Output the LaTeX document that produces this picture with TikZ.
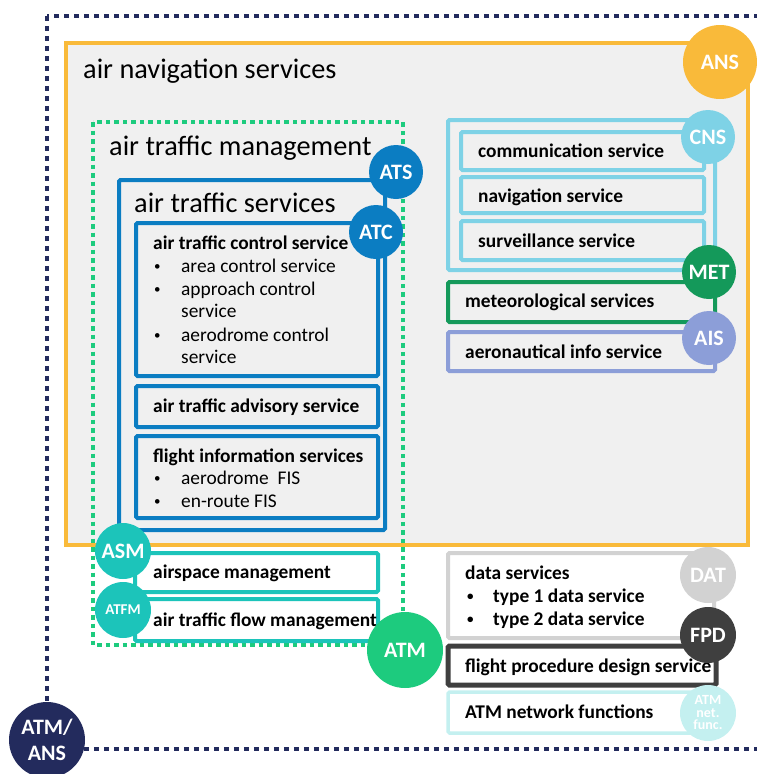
\documentclass[tikz,border=0pt]{standalone}
\usepackage{fontspec}
\setmainfont{Carlito}
\definecolor{navy}{HTML}{232B5D}
\definecolor{ansorange}{HTML}{F9BA3A}
\definecolor{panel}{HTML}{F0F0F0}
\definecolor{atmgreen}{HTML}{1DCB7E}
\definecolor{atsblue}{HTML}{0B7DC2}
\definecolor{asmteal}{HTML}{1CC4BA}
\definecolor{cnsblue}{HTML}{7ED2E6}
\definecolor{metgreen}{HTML}{14995A}
\definecolor{aislav}{HTML}{8C9ED8}
\definecolor{datgray}{HTML}{D2D2D2}
\definecolor{fpddark}{HTML}{3F3F3F}
\definecolor{netcyan}{HTML}{C4F0F0}
\begin{document}
\begin{tikzpicture}[x=1pt,y=-1pt,
  box/.style={line width=4pt, rounded corners=1.5pt},
  badge/.style={circle, inner sep=0pt, minimum size=#1, text=white,
    font=\fontsize{22}{22}\selectfont\bfseries},
  badge/.default=54pt,
  title/.style={anchor=base west, inner sep=0pt, font=\fontsize{28.3}{30}\selectfont},
  lbl/.style={anchor=base west, inner sep=0pt, font=\fontsize{19.4}{22}\selectfont\bfseries},
  item/.style={anchor=base west, inner sep=0pt, font=\fontsize{19.4}{22}\selectfont},
  dot/.style={anchor=base west, inner sep=0pt, font=\fontsize{13}{13}\selectfont},
]
\useasboundingbox (0,0) rectangle (757,774);

% outer ATM/ANS frame
\begin{scope}
\clip (0,0) rectangle (757,774);
\draw[navy, line width=4.5pt, dash pattern=on 5pt off 5pt] (47,16) rectangle (775,749);
\end{scope}

% air navigation services
\draw[ansorange, fill=panel, line width=3.2pt] (66,43) rectangle (748,545);
\node[title] (tans) at (83,78) {air navigation services};

% air traffic management (dotted)
\draw[atmgreen, line width=4pt, dash pattern=on 4.5pt off 4pt] (93,122) rectangle (403,645);
\node[title] (tatm) at (109,155) {air traffic management};

% air traffic services
\draw[box, atsblue, fill=panel] (119,180) rectangle (385,530);
\node[title] (tats) at (134,212) {air traffic services};

% ATC box
\draw[box, atsblue, fill=panel] (136,223) rectangle (378,376);
\node[lbl] (atc0) at (153,249) {air traffic control service};
\node[dot] (atcb1) at (154,270) {•};
\node[item] (atc1) at (181,272) {area control service};
\node[dot] (atcb2) at (154,293) {•};
\node[item] (atc2) at (181,295) {approach control};
\node[item] (atc2b) at (181,317) {service};
\node[dot] (atcb3) at (154,339) {•};
\node[item] (atc3) at (181,341) {aerodrome control};
\node[item] (atc3b) at (181,363) {service};

% advisory box
\draw[box, atsblue, fill=panel] (136,386) rectangle (378,427);
\node[lbl] (adv) at (153,412) {air traffic advisory service};

% FIS box
\draw[box, atsblue, fill=panel] (136,436) rectangle (378,518);
\node[lbl] (fis0) at (153,462) {flight information services};
\node[dot] (fisb1) at (154,482) {•};
\node[item] (fis1) at (181,484) {aerodrome\ \ FIS};
\node[dot] (fisb2) at (154,505) {•};
\node[item] (fis2) at (181,507) {en-route FIS};

% ASM / ATFM
\draw[box, asmteal, fill=white] (135,553) rectangle (378,592);
\node[lbl] (asm) at (153,578) {airspace management};
\draw[box, asmteal, fill=white] (135,599) rectangle (378,641);
\node[lbl] (atfm) at (153,626) {air traffic flow management};

% CNS group
\draw[box, cnsblue, fill=panel] (448,120) rectangle (715,270);
\draw[box, cnsblue, fill=panel] (461,132) rectangle (704,170);
\node[lbl] (com) at (478,157) {communication service};
\draw[box, cnsblue, fill=panel] (461,177) rectangle (704,213);
\node[lbl] (nav) at (478,202) {navigation service};
\draw[box, cnsblue, fill=panel] (461,221) rectangle (704,260);
\node[lbl] (sur) at (478,247) {surveillance service};

% MET / AIS
\draw[box, metgreen, fill=panel] (448,282) rectangle (715,322);
\node[lbl] (met) at (465,307) {meteorological services};
\draw[box, aislav, fill=panel] (448,332) rectangle (715,371);
\node[lbl] (ais) at (465,358) {aeronautical info service};

% data services / FPD / network functions
\draw[box, datgray, fill=white] (448,553) rectangle (714,638);
\node[lbl] (dat0) at (465,579) {data services};
\node[dot, font=\fontsize{13}{13}\selectfont\bfseries] (datb1) at (467,600) {•};
\node[lbl] (dat1) at (493,602) {type 1 data service};
\node[dot, font=\fontsize{13}{13}\selectfont\bfseries] (datb2) at (467,623) {•};
\node[lbl] (dat2) at (493,625) {type 2 data service};
\draw[box, fpddark, fill=white, line width=5pt] (448,646) rectangle (716,685);
\node[lbl] (fpd) at (465,672) {flight procedure design service};
\draw[box, netcyan, fill=white, line width=3.5pt] (448,692) rectangle (714,733);
\node[lbl] (net) at (465,718) {ATM network functions};

% badges
\node[badge=74pt, fill=ansorange] (cans) at (720,62) {ANS};
\node[badge, fill=atsblue] (cats) at (396,172) {ATS};
\node[badge, fill=atsblue] (catc) at (376,232) {ATC};
\node[badge, fill=cnsblue] (ccns) at (708,137) {CNS};
\node[badge, fill=metgreen] (cmet) at (709,272) {MET};
\node[badge, fill=aislav] (cais) at (709,338) {AIS};
\node[badge=56pt, fill=asmteal] (casm) at (123,551) {ASM};
\node[badge=56pt, fill=asmteal, font=\fontsize{15}{15}\selectfont\bfseries] (catfm) at (123,610) {ATFM};
\node[badge=76pt, fill=atmgreen] (catm) at (405,650) {ATM};
\node[badge=56pt, fill=datgray] (cdat) at (708,575) {DAT};
\node[badge=56pt, fill=fpddark] (cfpd) at (708,635) {FPD};
\node[badge=56pt, fill=netcyan, align=center, font=\fontsize{14}{12.5}\selectfont\bfseries] (cnet) at (708,713) {ATM\\net.\\func.};
\node[badge=76pt, fill=navy, align=center, font=\fontsize{22}{26}\selectfont\bfseries] (cboth) at (47,740) {ATM/\\ANS};
\end{tikzpicture}
\end{document}
